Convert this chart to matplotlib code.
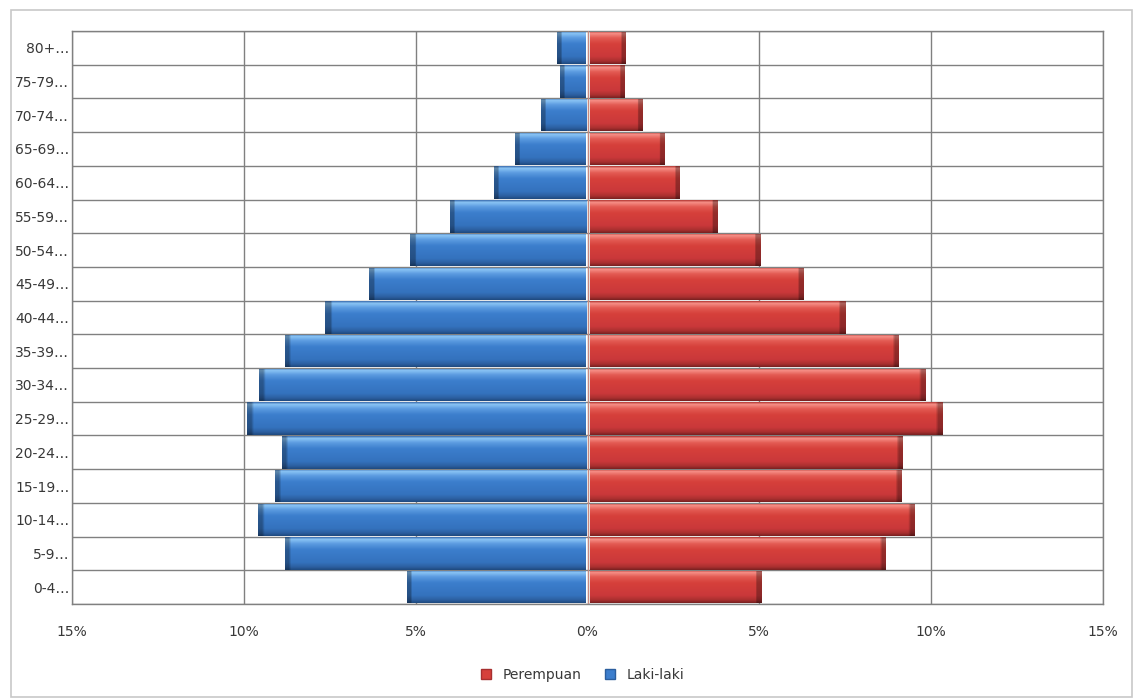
import numpy as np
import matplotlib.pyplot as plt
from matplotlib.colors import to_rgb
from matplotlib.lines import Line2D
from matplotlib.patches import Rectangle

age_groups = ["0-4", "5-9", "10-14", "15-19", "20-24", "25-29", "30-34", "35-39",
              "40-44", "45-49", "50-54", "55-59", "60-64", "65-69", "70-74", "75-79", "80+"]
laki_laki = [5.2, 8.75, 9.55, 9.05, 8.85, 9.85, 9.5, 8.75, 7.6, 6.3, 5.12, 3.96, 2.67, 2.06, 1.31, 0.75, 0.83]
perempuan = [5.0, 8.6, 9.45, 9.05, 9.1, 10.27, 9.75, 8.97, 7.42, 6.22, 4.96, 3.7, 2.6, 2.17, 1.52, 1.0, 1.04]
x_ticks = [-15, -10, -5, 0, 5, 10, 15]

BLUE_STOPS = [(0.0, "#3d6fb0"), (0.06, "#8cc6f6"), (0.2, "#5b9be0"), (0.38, "#3c7ecd"),
              (0.78, "#3472bd"), (0.92, "#2b5e9e"), (1.0, "#1f4a80")]
RED_STOPS = [(0.0, "#b53a35"), (0.06, "#f79189"), (0.2, "#e35b53"), (0.38, "#d6403b"),
             (0.78, "#c9383a"), (0.92, "#a72f2f"), (1.0, "#7a2121")]


def gradient(stops, n=60):
    t = np.linspace(0, 1, n)
    pos = [s[0] for s in stops]
    cols = np.array([to_rgb(s[1]) for s in stops])
    return np.stack([np.interp(t, pos, cols[:, i]) for i in range(3)], axis=1)


def shade_bars(ax, bars, stops, outer_right):
    prof = gradient(stops)
    for bar in bars:
        x0, x1 = sorted([bar.get_x(), bar.get_x() + bar.get_width()])
        y0, y1 = bar.get_y(), bar.get_y() + bar.get_height()
        w = x1 - x0
        xs = np.linspace(0, 1, 120)
        # darker cap at the outer end of the bar
        dist = (1 - xs) if outer_right else xs
        cap = 0.13 / max(w, 0.01)
        fac = np.where(dist < cap, 0.7, 1.0)
        img = prof[:, None, :] * fac[None, :, None]
        im = ax.imshow(img, extent=[x0, x1, y0, y1], origin="upper", aspect="auto",
                       interpolation="bilinear", zorder=3)
        im.set_clip_path(bar)


fig = plt.figure(figsize=(11.36, 6.99), dpi=100)
ax = fig.add_axes([72 / 1136, 1 - 604 / 699, (1103 - 72) / 1136, (604 - 31) / 699])

y = np.arange(len(age_groups))
male_bars = ax.barh(y, [-v for v in laki_laki], height=0.96, left=-0.05, color="#3c7ecd", zorder=2)
female_bars = ax.barh(y, perempuan, height=0.96, left=0.07, color="#d6403b", zorder=2)
shade_bars(ax, male_bars, BLUE_STOPS, outer_right=False)
shade_bars(ax, female_bars, RED_STOPS, outer_right=True)
ax.axvline(0, color="#c98a80", lw=0.8, zorder=4)

ax.set_xlim(-15, 15)
ax.set_ylim(-0.5, len(age_groups) - 0.5)
ax.set_xticks(x_ticks)
ax.set_xticklabels([f"{abs(v)}%" for v in x_ticks])
ax.set_yticks(y)
ax.set_yticklabels([g + "\u2026" for g in age_groups])
ax.set_yticks(np.arange(len(age_groups) + 1) - 0.5, minor=True)
ax.tick_params(axis="both", which="both", length=0, colors="#383838", labelsize=10)
ax.tick_params(axis="x", pad=15)
ax.tick_params(axis="y", pad=2)
ax.grid(True, axis="x", which="major", color="#808080", lw=1.0, zorder=0)
ax.grid(True, axis="y", which="minor", color="#808080", lw=1.0, zorder=0)
ax.set_axisbelow(True)
for s in ax.spines.values():
    s.set_color("#808080")
    s.set_linewidth(1.0)

handles = [Line2D([], [], marker="s", ls="", markersize=7, markerfacecolor="#d6403b",
                  markeredgecolor="#a72f2f", label="Perempuan"),
           Line2D([], [], marker="s", ls="", markersize=7, markerfacecolor="#3c7ecd",
                  markeredgecolor="#2b5e9e", label="Laki-laki")]
fig.legend(handles=handles, loc="center", bbox_to_anchor=(0.509, 0.034), ncol=2,
           frameon=False, fontsize=10, handletextpad=0.2, columnspacing=1.0,
           labelcolor="#383838")

fig.add_artist(Rectangle((11 / 1136, 2 / 699), 1121 / 1136, 687 / 699, transform=fig.transFigure,
                         fill=False, edgecolor="#c8c8c8", lw=1.2))

fig.savefig("out.png", dpi=100)
